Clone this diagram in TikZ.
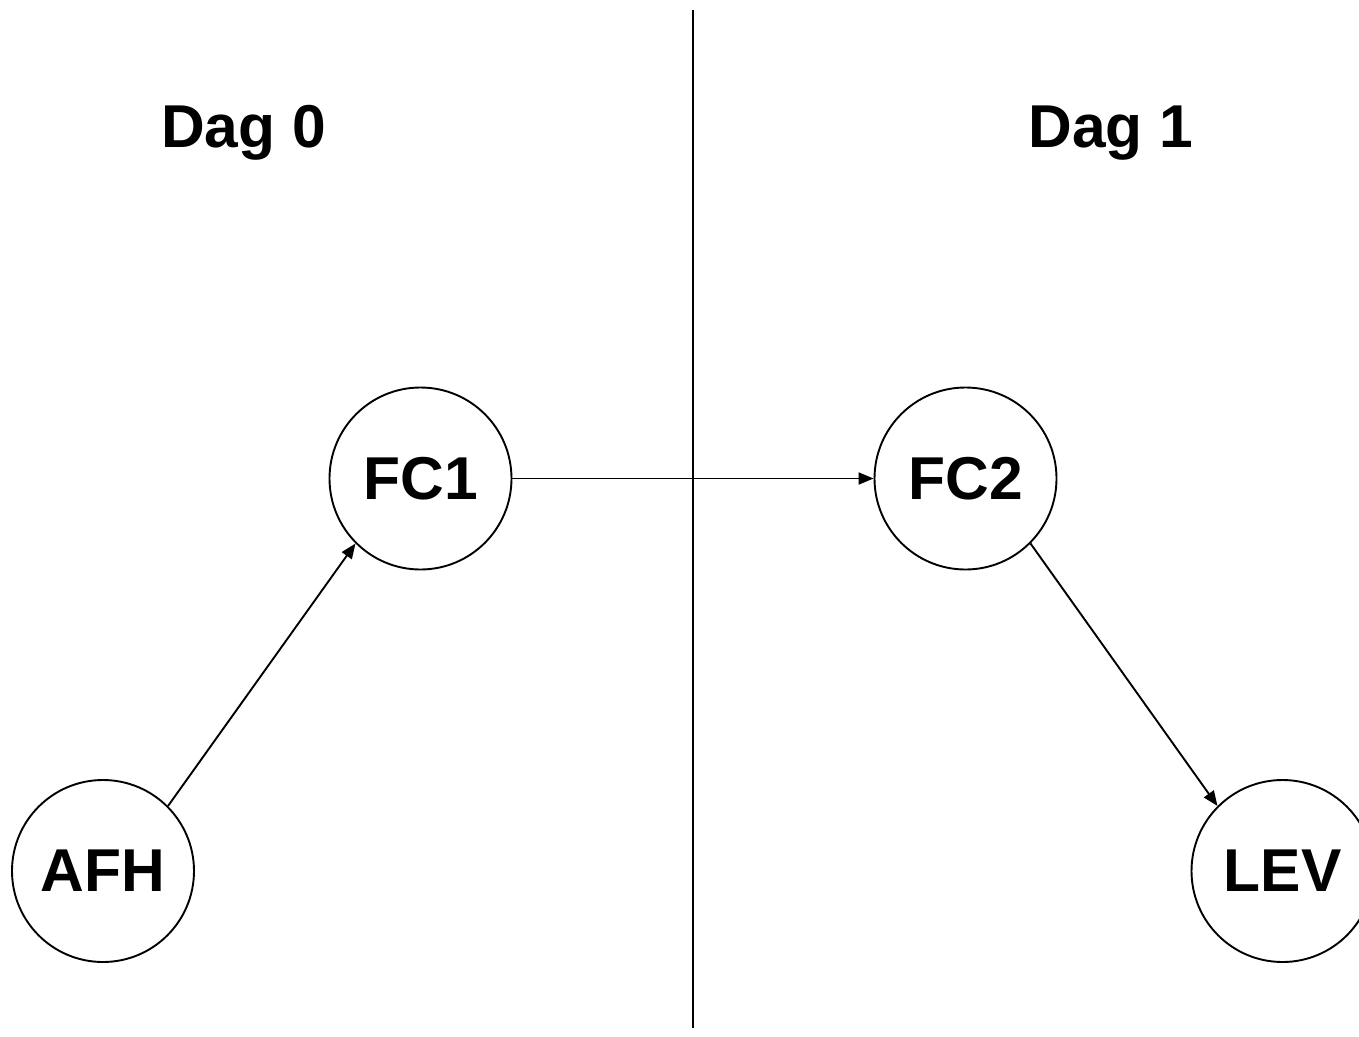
\documentclass[tikz,border=0pt]{standalone}
\usepackage{fontspec}
\setmainfont{Liberation Sans}
\usetikzlibrary{arrows.meta}
\begin{document}
\begin{tikzpicture}[x=1pt,y=-1pt,
  state/.style={circle,draw,line width=1.9pt,minimum size=182pt,inner sep=0pt,
    font=\bfseries\fontsize{60.5}{70}\selectfont},
  daylabel/.style={anchor=base,inner sep=0pt,font=\bfseries\fontsize{60.5}{70}\selectfont},
  conn/.style={line width=1.9pt,-{Triangle[length=15pt,width=12pt]}},
  divider/.style={line width=2pt}]
\useasboundingbox (0,0) rectangle (1359,1036);
\clip (0,0) rectangle (1359,1036);
\fill[white] (0,0) rectangle (1359,1036);
\coordinate (top) at (692.7,10);
\coordinate (bot) at (692.7,1028);
\draw[divider] (top) -- (bot);
\node[daylabel] (d0) at (243.5,147) {Dag 0};
\node[daylabel] (d1) at (1111,147) {Dag 1};
\node[state] (afh) at (103,871) {AFH};
\node[state] (fc1) at (420.5,478.5) {FC1};
\node[state] (fc2) at (965.5,478.5) {FC2};
\node[state] (lev) at (1282.5,871) {LEV};
\draw[conn] (afh.45) -- (fc1.225);
\draw[conn] (fc1) -- (fc2);
\draw[conn] (fc2.-45) -- (lev.135);
\end{tikzpicture}
\end{document}
